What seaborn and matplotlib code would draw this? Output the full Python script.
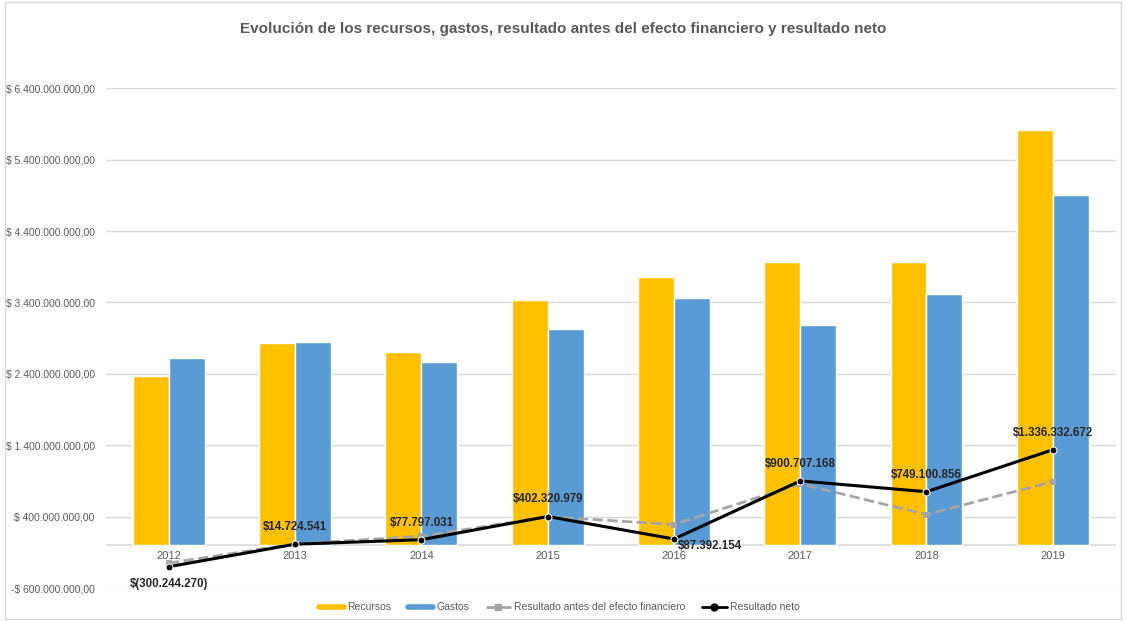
import matplotlib.pyplot as plt
import matplotlib.ticker as mticker
from matplotlib.lines import Line2D
from matplotlib.patches import Rectangle
import pandas as pd
import seaborn as sns

sns.set_theme(style='whitegrid')
plt.rcParams['font.family'] = ['Liberation Sans', 'DejaVu Sans']

years = ['2012', '2013', '2014', '2015', '2016', '2017', '2018', '2019']
recursos = [2.365e9, 2.83e9, 2.70e9, 3.43e9, 3.76e9, 3.96e9, 3.96e9, 5.81e9]
gastos = [2.62e9, 2.85e9, 2.57e9, 3.03e9, 3.46e9, 3.08e9, 3.52e9, 4.91e9]
resultado_antes = [-250e6, 20e6, 125e6, 400e6, 290e6, 860e6, 430e6, 890e6]
resultado_neto = [-300244270, 14724541, 77797031, 402320979, 87392154,
                  900707168, 749100856, 1336332672]
yticks = [-600e6, 400e6, 1.4e9, 2.4e9, 3.4e9, 4.4e9, 5.4e9, 6.4e9]

C_REC = '#FFC000'
C_GAS = '#5B9BD5'
C_ANT = '#A5A5A5'
TXT = '#595959'


def money(v, decimals=False):
    s = f'{abs(v):,.0f}'.replace(',', '.')
    if decimals:
        return ('-' if v < 0 else '') + '$ ' + s + ',00'
    return f'$({s})' if v < 0 else '$' + s


bars = pd.DataFrame({
    'anio': years * 2,
    'valor': recursos + gastos,
    'serie': ['Recursos'] * len(years) + ['Gastos'] * len(years),
})

fig = plt.figure(figsize=(11.26, 6.21), dpi=100)
ax = fig.add_axes([0.094, 0.053, 0.897, 0.805])

sns.barplot(data=bars, x='anio', y='valor', hue='serie',
            palette=[C_REC, C_GAS], width=0.57, saturation=1,
            ax=ax, legend=False, zorder=2)
pos = list(range(len(years)))
sns.lineplot(x=pos, y=resultado_antes, color=C_ANT, linestyle='--', lw=2,
             marker='s', markersize=5, markeredgewidth=0, ax=ax, zorder=3)
sns.lineplot(x=pos, y=resultado_neto, color='black', lw=2.2,
             marker='o', markersize=5, ax=ax, zorder=4)

# etiquetas del resultado neto
for i, v in enumerate(resultado_neto):
    if v < 0:
        ax.annotate(money(v), (i, v), xytext=(0, -8), textcoords='offset points',
                    ha='center', va='top', fontsize=8.3, fontweight='bold')
    elif years[i] == '2016':
        ax.annotate(money(v), (i, v), xytext=(3, -1), textcoords='offset points',
                    ha='left', va='top', fontsize=8.3, fontweight='bold')
    else:
        ax.annotate(money(v), (i, v), xytext=(0, 8), textcoords='offset points',
                    ha='center', va='bottom', fontsize=8.3, fontweight='bold')

ax.set_ylim(-600e6, 6.4e9)
ax.set_xlim(-0.5, len(years) - 0.5)
ax.set_yticks(yticks)
ax.yaxis.set_major_formatter(mticker.FuncFormatter(lambda v, p: money(v, True)))
ax.axhline(0, color='#D9D9D9', lw=1.2, zorder=1)
ax.grid(axis='y', color='#D9D9D9', lw=1)
ax.grid(axis='x', visible=False)
for s in ax.spines.values():
    s.set_visible(False)
ax.spines['bottom'].set_position(('data', 0))
ax.tick_params(axis='both', length=0, labelcolor=TXT)
ax.tick_params(axis='x', pad=4, labelsize=8)
ax.tick_params(axis='y', pad=8, labelsize=7.5)
ax.set_xlabel('')
ax.set_ylabel('')

fig.suptitle('Evolución de los recursos, gastos, resultado antes del efecto financiero y resultado neto',
             y=0.965, fontsize=11, fontweight='bold', color=TXT)

handles = [
    Line2D([], [], color=C_REC, lw=4),
    Line2D([], [], color=C_GAS, lw=4),
    Line2D([], [], color=C_ANT, lw=2, linestyle='--', marker='s', markersize=5),
    Line2D([], [], color='black', lw=2, marker='o', markersize=5),
]
labels = ['Recursos', 'Gastos', 'Resultado antes del efecto financiero', 'Resultado neto']
fig.legend(handles, labels, loc='center', bbox_to_anchor=(0.497, 0.022), ncol=4,
           frameon=False, fontsize=7.5, labelcolor=TXT, handlelength=2.4,
           columnspacing=1.6, handletextpad=0.3)

fig.add_artist(Rectangle((0.004, 0.003), 0.992, 0.994, transform=fig.transFigure,
                         fill=False, edgecolor='#D9D9D9', lw=1))

fig.savefig('out.png', dpi=100)
